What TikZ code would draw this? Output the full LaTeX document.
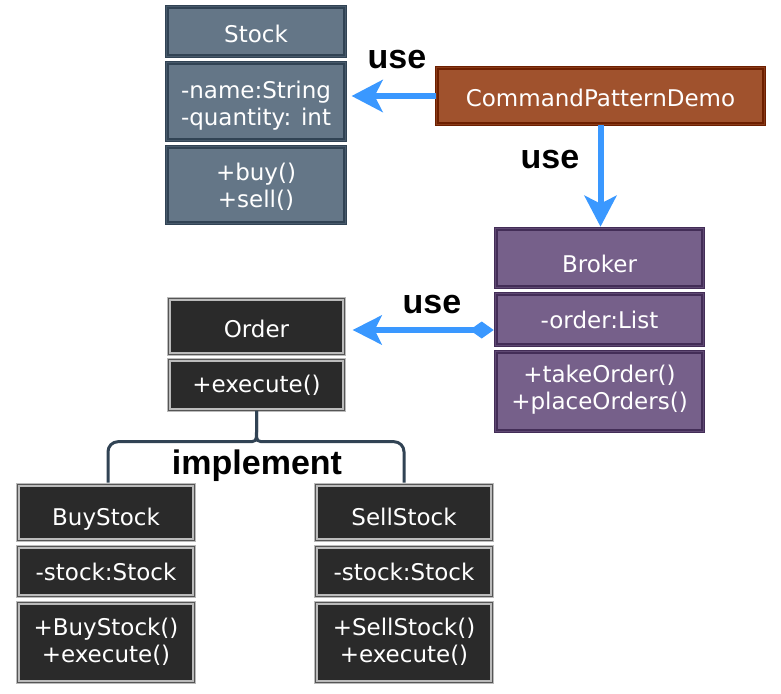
\documentclass[tikz,border=0pt]{standalone}
\usepackage{fontspec}
\setmainfont{DejaVu Sans}
\newfontfamily\lblfont{Liberation Sans}
\usetikzlibrary{arrows.meta,calc}
\definecolor{slatefill}{HTML}{647687}
\definecolor{slatedraw}{HTML}{314354}
\definecolor{brownfill}{HTML}{A0522D}
\definecolor{browndraw}{HTML}{6D1F00}
\definecolor{purpfill}{HTML}{76608A}
\definecolor{purpdraw}{HTML}{432D57}
\definecolor{darkfill}{HTML}{2A2A2A}
\definecolor{darkdraw}{HTML}{BBBBBB}
\definecolor{arrowblue}{HTML}{3A98FF}
\begin{document}
\begin{tikzpicture}[x=1pt,y=-1pt,
  sec/.style={rectangle, inner sep=0pt, text=white, align=center,
    font=\fontsize{23}{27}\selectfont, line width=1.2pt, double distance=1.2pt},
  box/.style n args={3}{minimum width={#1pt-3.6pt}, minimum height={#2pt-3.6pt},
    text height=#3pt, text depth=0pt},
  slatebox/.style={sec, fill=slatefill, draw=slatedraw, double=slatedraw!55!slatefill},
  brownbox/.style={sec, fill=brownfill, draw=browndraw, double=browndraw!45!brownfill},
  purpbox/.style={sec, fill=purpfill, draw=purpdraw, double=purpdraw!45!purpfill},
  darkbox/.style={sec, fill=darkfill, draw=darkdraw, double=darkfill!80!white},
  uses/.style={draw=arrowblue, line width=6pt},
  bracestyle/.style={draw=slatedraw, line width=3pt},
  lbl/.style={font=\lblfont\bfseries\fontsize{34}{40}\selectfont, text=black, inner sep=0pt, anchor=base}
]
\fill[white] (0,0) rectangle (781,693);
\useasboundingbox (0,0) rectangle (781,693);

% Stock
\node[slatebox, box={182}{53}{21}] (stocktitle) at (256,31.5) {Stock};
\node[slatebox, box={182}{81}{47}] (stockattr) at (256,101.5) {-name:String\\-quantity: int};
\node[slatebox, box={182}{80}{44}] (stockmeth) at (256,185) {+buy()\\+sell()};

% CommandPatternDemo
\node[brownbox, box={331}{60}{20}] (cpd) at (600.5,96) {CommandPatternDemo};

% Broker
\node[purpbox, box={211}{62}{28}] (brokertitle) at (599.5,258) {Broker};
\node[purpbox, box={211}{55}{17}] (brokerattr) at (599.5,319.5) {-order:List};
\node[purpbox, box={211}{83}{35}] (brokermeth) at (599.5,391.5) {+takeOrder()\\+placeOrders()};

% brace joint coordinates
\coordinate (bj) at ($(256.5,385)+(0,46.7)$);
\coordinate (bl) at ($(bj)+(-10,10)$);
\coordinate (br) at ($(bj)+(10,10)$);

% Order
\node[darkbox, box={179}{59}{21}] (ordertitle) at (256.5,326.5) {Order};
\node[darkbox, box={179}{54}{14}] (ordermeth) at (256.5,385) {+execute()};

% BuyStock / SellStock positions
\coordinate (buyc) at (106,512.5);
\coordinate (sellc) at (404,512.5);
\draw[bracestyle] (ordermeth.south) -- (bj) .. controls ($(bj)+(0,10)$) .. (bl)
  [rounded corners=10pt] -| ($(buyc)+(2,-30)$);
\draw[bracestyle] (ordermeth.south) -- (bj) .. controls ($(bj)+(0,10)$) .. (br)
  [rounded corners=10pt] -| ($(sellc)+(0,-30)$);

\node[darkbox, box={180}{59}{25}] (buytitle) at (buyc) {BuyStock};
\node[darkbox, box={180}{53}{17}] (buyattr) at (106,571.5) {-stock:Stock};
\node[darkbox, box={180}{83}{39}] (buymeth) at (106,642.5) {+BuyStock()\\+execute()};

\node[darkbox, box={180}{59}{25}] (selltitle) at (sellc) {SellStock};
\node[darkbox, box={180}{53}{17}] (sellattr) at (404,571.5) {-stock:Stock};
\node[darkbox, box={180}{83}{39}] (sellmeth) at (404,642.5) {+SellStock()\\+execute()};

% connectors
\draw[uses, -{Stealth[length=31pt,width=32pt,inset=8pt]}]
  (cpd.west) -- ($(cpd.west -| stockattr.east)+(5.8,0)$);
\draw[uses, -{Stealth[length=31pt,width=32pt,inset=8pt]}]
  (cpd.south) -- ($(cpd.south |- brokertitle.north)+(0,-1.5)$);
\draw[uses, {Diamond[length=24pt,width=17pt]}-{Stealth[length=29pt,width=29pt,inset=7pt]}]
  ($(brokerattr.west)+(-1.5,10.5)$) -- ($(brokerattr.west -| ordertitle.east)+(7.8,10.5)$);

% labels
\node[lbl] (use1) at (397,68) {use};
\node[lbl] (use2) at (550,168) {use};
\node[lbl] (use3) at (432,313) {use};
\node[lbl] (impl) at (257,474) {implement};
\end{tikzpicture}
\end{document}
